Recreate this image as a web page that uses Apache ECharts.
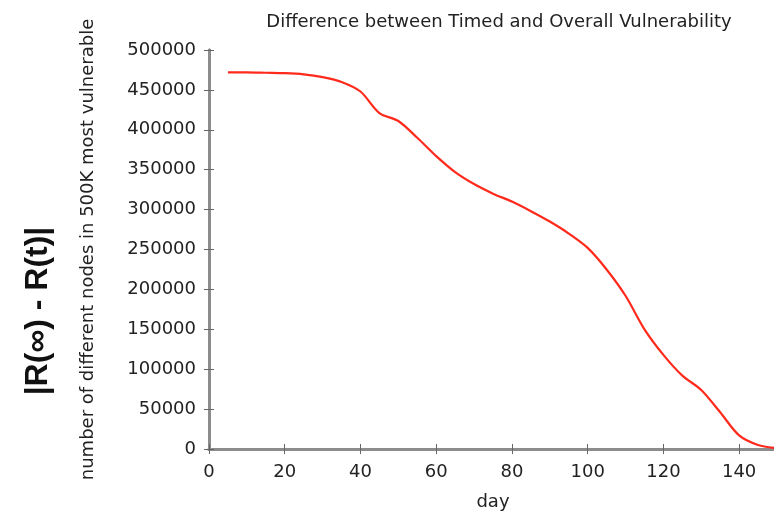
<!DOCTYPE html>
<html>
<head>
<meta charset="utf-8">
<script src="https://cdn.jsdelivr.net/npm/echarts@6/dist/echarts.min.js"></script>
<style>html,body{margin:0;padding:0;background:#fff}#c{width:774px;height:512px}</style>
</head>
<body>
<div id="c"></div>
<script>
const days = [5,10,15,20,25,30,35,40,45,50,55,60,65,70,75,80,85,90,95,100,105,110,115,120,125,130,135,140,145,150];
const values = [472000,472000,471500,471000,469500,466000,460000,448000,421000,411000,390000,367000,347000,332000,320000,310000,298000,285000,270000,252000,225000,192000,150000,118000,92000,74000,46000,17000,5000,1000];
const xTicks = [0,20,40,60,80,100,120,140];
const yTicks = [0,50000,100000,150000,200000,250000,300000,350000,400000,450000,500000];
const titleText = 'Difference between Timed and Overall Vulnerability';
const yName = 'number of different nodes in 500K most vulnerable';
const xName = 'day';
const bigLabel = '|R(\u221E) - R(t)|';

const FONT = '"DejaVu Sans", sans-serif';
const BOLD = '"Liberation Sans", Arial, sans-serif';
const gray = '#8c8c8c';
const chart = echarts.init(document.getElementById('c'));
chart.setOption({
  animation: false,
  title: {
    text: titleText, left: 494, top: 8, textAlign: 'center',
    textStyle: {fontFamily: FONT, fontSize: 18, fontWeight: 'normal', color: '#222'}
  },
  grid: {left: 209, top: 50, width: 568, bottom: 63, containLabel: false, outerBoundsMode: 'none'},
  xAxis: [{
    type: 'value', min: 0, max: 150, interval: 20,
    name: xName, nameLocation: 'middle', nameGap: 44,
    nameTextStyle: {fontFamily: FONT, fontSize: 18, color: '#222'},
    axisLine: {show: true, lineStyle: {color: gray, width: 3}},
    axisTick: {show: true, inside: true, length: 5, lineStyle: {color: '#666', width: 1}},
    axisLabel: {fontFamily: FONT, fontSize: 18, color: '#222', margin: 14,
      formatter: v => xTicks.includes(v) ? String(v) : ''},
    splitLine: {show: false}
  }, {
    type: 'value', min: 0, max: 150, interval: 20, position: 'top',
    axisLine: {show: true, lineStyle: {color: gray, width: 3}},
    axisTick: {show: true, inside: true, length: 5, lineStyle: {color: '#666', width: 1}},
    axisLabel: {show: false}, splitLine: {show: false}
  }],
  yAxis: [{
    type: 'value', min: 0, max: 500000, interval: 50000,
    name: yName, nameLocation: 'middle', nameGap: 112, nameRotate: 90,
    nameTextStyle: {fontFamily: FONT, fontSize: 18, color: '#222'},
    axisLine: {show: true, lineStyle: {color: gray, width: 3}},
    axisTick: {show: true, inside: true, length: 5, lineStyle: {color: '#666', width: 1}},
    axisLabel: {fontFamily: FONT, fontSize: 18, color: '#222', margin: 13,
      formatter: v => yTicks.includes(v) ? String(v) : ''},
    splitLine: {show: false}
  }, {
    type: 'value', min: 0, max: 500000, interval: 50000, position: 'right',
    axisLine: {show: true, lineStyle: {color: gray, width: 3}},
    axisTick: {show: true, inside: true, length: 5, lineStyle: {color: '#666', width: 1}},
    axisLabel: {show: false}, splitLine: {show: false}
  }],
  graphic: [{
    type: 'text', x: 38, y: 311, rotation: Math.PI / 2,
    style: {text: bigLabel, fontFamily: BOLD, fontSize: 32, fontWeight: 'bold', fill: '#111',
      textAlign: 'center', textVerticalAlign: 'middle'}
  }],
  series: [{
    type: 'line', data: days.map((d, i) => [d, values[i]]),
    showSymbol: false, smooth: 0.3, clip: true,
    lineStyle: {color: '#ff2a1c', width: 2.2}
  }]
});
</script>
</body>
</html>
